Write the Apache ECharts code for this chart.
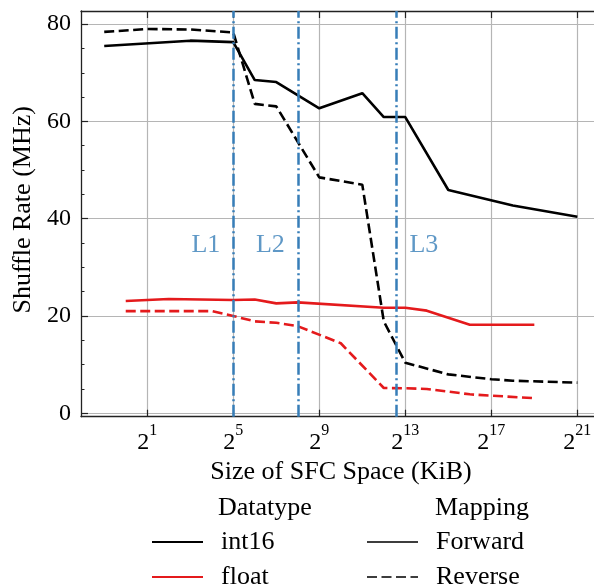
<!DOCTYPE html>
<html>
<head>
<meta charset="utf-8">
<script src="https://cdn.jsdelivr.net/npm/echarts@6/dist/echarts.min.js"></script>
<style>
html, body { margin: 0; padding: 0; background: #fff; }
#chart { width: 594px; height: 586px; }
</style>
</head>
<body>
<div id="chart"></div>
<script>
// x = log2(size of SFC space in KiB), y = shuffle rate in MHz
const int16FwdX = [-1, 3, 5, 6, 7, 9, 11, 12, 13, 15, 18, 21];
const int16FwdY = [75.5, 76.6, 76.3, 68.5, 68.1, 62.7, 65.8, 60.9, 60.9, 45.9, 42.7, 40.4];
const int16RevX = [-1, 1, 3, 5, 6, 7, 9, 11, 12, 13, 15, 17, 18, 21];
const int16RevY = [78.4, 79.0, 78.9, 78.3, 63.6, 63.1, 48.5, 47.0, 18.9, 10.4, 8.0, 7.0, 6.7, 6.3];
const floatFwdX = [0, 2, 5, 6, 7, 8, 12, 13, 14, 16, 19];
const floatFwdY = [23.1, 23.5, 23.3, 23.4, 22.6, 22.8, 21.7, 21.7, 21.1, 18.2, 18.2];
const floatRevX = [0, 4, 5, 6, 7, 8, 10, 12, 13, 14, 16, 19];
const floatRevY = [21.0, 21.0, 20.0, 18.9, 18.6, 17.9, 14.4, 5.2, 5.15, 5.0, 3.9, 3.1];

// cache sizes in KiB
const cacheNames = ['L1', 'L2', 'L3'];
const cacheSizes = [32, 256, 6144];

const xTicks = [1, 5, 9, 13, 17, 21];
const yTicks = [0, 20, 40, 60, 80];
const yMinorTicks = [5, 10, 15, 25, 30, 35, 45, 50, 55, 65, 70, 75];

const FONT = 'Liberation Serif';
const BLUE = '#377eb8';
const RED = '#e41a1c';
const GREY = '#3d3d3d';
const SPINE = '#222';

function pairs(xs, ys) {
    return xs.map((x, i) => [x, ys[i]]);
}

const chart = echarts.init(document.getElementById('chart'));

const spine = { show: true, onZero: false, lineStyle: { color: SPINE, width: 1.3 } };

function lineSeries(name, xs, ys, color, dashed) {
    return {
        name: name,
        type: 'line',
        data: pairs(xs, ys),
        symbol: 'none',
        z: 3,
        lineStyle: { color: color, width: 2.6, type: dashed ? [10, 4.5] : 'solid' },
        itemStyle: { color: color },
        animation: false
    };
}

function legendBlock(names, left) {
    return {
        data: names, orient: 'vertical', left: left, top: 529, height: 70, padding: 0,
        itemWidth: 51, itemHeight: 14, itemGap: 9, selectedMode: false,
        itemStyle: { opacity: 0 },
        textStyle: { fontFamily: FONT, fontSize: 26, color: '#000', lineHeight: 25, padding: [0, 0, 0, 13] }
    };
}

const option = {
    animation: false,
    grid: { left: 81, top: 11, width: 520, height: 405.7, containLabel: false, outerBoundsMode: 'none' },
    title: [
        { text: 'Datatype', left: 218, top: 495, padding: 0,
          textStyle: { fontFamily: FONT, fontSize: 26, fontWeight: 'normal', color: '#000' } },
        { text: 'Mapping', left: 435, top: 495, padding: 0,
          textStyle: { fontFamily: FONT, fontSize: 26, fontWeight: 'normal', color: '#000' } }
    ],
    legend: [
        legendBlock(['int16', 'float'], 151),
        legendBlock(['Forward', 'Reverse'], 366)
    ],
    xAxis: [
        {
            type: 'value', min: -2.08, max: 22.1, position: 'bottom',
            axisLine: spine,
            axisTick: { show: true, inside: true, length: 7, customValues: xTicks, lineStyle: { color: SPINE, width: 1.2 } },
            axisLabel: {
                customValues: xTicks, margin: 6,
                formatter: v => '{b|2}{s|' + v + '}',
                rich: {
                    b: { fontFamily: FONT, fontSize: 24, color: '#000', lineHeight: 32, verticalAlign: 'bottom' },
                    s: { fontFamily: FONT, fontSize: 16, color: '#000', lineHeight: 16, verticalAlign: 'top' }
                }
            },
            splitLine: { show: true, lineStyle: { color: '#b5b5b5', width: 1.2 } },
            name: 'Size of SFC Space (KiB)', nameLocation: 'middle', nameGap: 34,
            nameTextStyle: { fontFamily: FONT, fontSize: 26, color: '#000' }
        },
        {
            type: 'value', min: -2.08, max: 22.1, position: 'top',
            axisLine: spine,
            axisTick: { show: true, inside: true, length: 7, customValues: xTicks, lineStyle: { color: SPINE, width: 1.2 } },
            axisLabel: { show: false }, splitLine: { show: false }
        }
    ],
    yAxis: [
        {
            type: 'value', min: -0.7, max: 82.7, position: 'left',
            axisLine: spine,
            axisTick: { show: true, inside: true, length: 7, customValues: yTicks, lineStyle: { color: SPINE, width: 1.2 } },
            axisLabel: { customValues: yTicks, margin: 10, fontFamily: FONT, fontSize: 24, color: '#000' },
            splitLine: { show: true, lineStyle: { color: '#b5b5b5', width: 1.2 } },
            name: 'Shuffle Rate (MHz)', nameLocation: 'middle', nameGap: 44, nameRotate: 90,
            nameTextStyle: { fontFamily: FONT, fontSize: 26, color: '#000', padding: [0, 0, 0, 8] }
        },
        {
            type: 'value', min: -0.7, max: 82.7, position: 'left',
            axisLine: { show: false, onZero: false },
            axisTick: { show: true, inside: true, length: 3.5, customValues: yMinorTicks, lineStyle: { color: SPINE, width: 1 } },
            axisLabel: { show: false }, splitLine: { show: false }
        },
        {
            type: 'value', min: -0.7, max: 82.7, position: 'right',
            axisLine: spine,
            axisTick: { show: true, inside: true, length: 7, customValues: yTicks, lineStyle: { color: SPINE, width: 1.2 } },
            axisLabel: { show: false }, splitLine: { show: false }
        },
        {
            type: 'value', min: -0.7, max: 82.7, position: 'right',
            axisLine: { show: false, onZero: false },
            axisTick: { show: true, inside: true, length: 3.5, customValues: yMinorTicks, lineStyle: { color: SPINE, width: 1 } },
            axisLabel: { show: false }, splitLine: { show: false }
        }
    ],
    series: [
        {
            name: 'cache',
            type: 'scatter',
            symbolSize: 0,
            z: 2,
            data: cacheSizes.map((s, i) => ({
                name: cacheNames[i],
                value: [Math.log2(s), 34.6],
                label: { position: i === 2 ? 'right' : 'left' }
            })),
            label: {
                show: true, distance: 13, formatter: '{b}',
                fontFamily: FONT, fontSize: 26, color: BLUE
            },
            markLine: {
                silent: true,
                symbol: 'none',
                label: { show: false },
                lineStyle: { color: BLUE, width: 2.5, type: [12, 3.5, 2, 3.5] },
                data: cacheSizes.map(s => ({ xAxis: Math.log2(s) }))
            }
        },
        lineSeries('int16', int16FwdX, int16FwdY, '#000', false),
        lineSeries('int16', int16RevX, int16RevY, '#000', true),
        lineSeries('float', floatFwdX, floatFwdY, RED, false),
        lineSeries('float', floatRevX, floatRevY, RED, true),
        lineSeries('Forward', [], [], GREY, false),
        lineSeries('Reverse', [], [], GREY, true)
    ]
};

chart.setOption(option);
</script>
</body>
</html>
